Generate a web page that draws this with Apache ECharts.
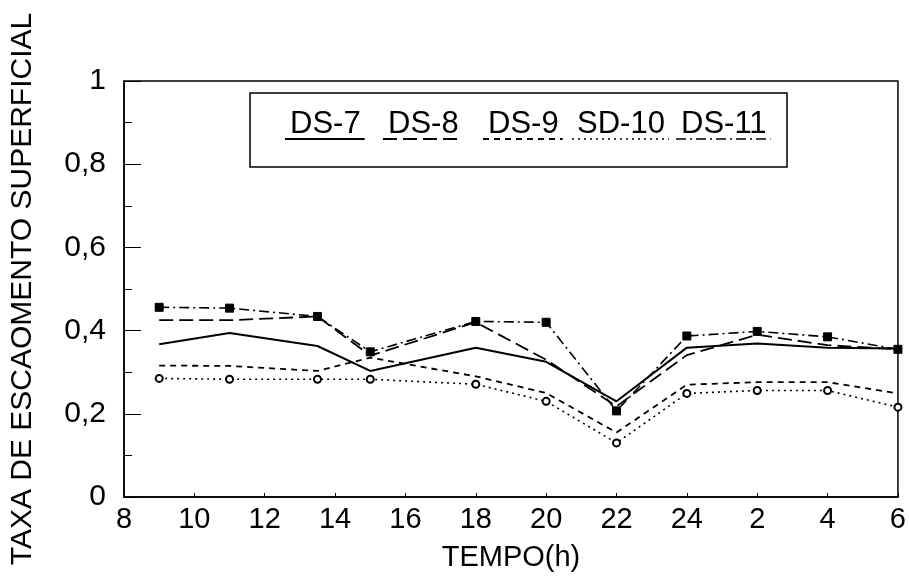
<!DOCTYPE html>
<html>
<head>
<meta charset="utf-8">
<script src="https://cdn.jsdelivr.net/npm/echarts@6/dist/echarts.min.js"></script>
<style>
html,body{margin:0;padding:0;background:#fff;}
#chart{width:909px;height:577px;}
</style>
</head>
<body>
<div id="chart"></div>
<script>
// Hours (9h day 1 ... 6h next day, plotted as 30)
const hours = [9, 11, 13.5, 15, 18, 20, 22, 24, 26, 28, 30];
const xTickLabels = ['8','10','12','14','16','18','20','22','24','2','4','6'];
const seriesNames = ['DS-7','DS-8','DS-9','SD-10','DS-11'];
const ds7  = [0.367, 0.394, 0.363, 0.303, 0.359, 0.325, 0.230, 0.359, 0.369, 0.359, 0.357];
const ds8  = [0.425, 0.425, 0.434, 0.340, 0.420, 0.330, 0.218, 0.341, 0.390, 0.365, 0.355];
const ds9  = [0.316, 0.315, 0.303, 0.335, 0.290, 0.250, 0.155, 0.270, 0.276, 0.276, 0.249];
const sd10 = [0.285, 0.283, 0.283, 0.283, 0.271, 0.230, 0.130, 0.249, 0.256, 0.256, 0.216];
const ds11 = [0.456, 0.454, 0.434, 0.349, 0.422, 0.420, 0.207, 0.387, 0.398, 0.385, 0.355];

const FONT = '"Liberation Sans", Arial, Helvetica, sans-serif';

function pairs(arr){ return hours.map((h,i)=>[h, arr[i]]); }

const styles = {
  'DS-7':  {type:'solid', width:2, symbol:'none', size:0},
  'DS-8':  {type:[14,6], width:1.8, symbol:'none', size:0},
  'DS-9':  {type:[6,5], width:1.8, symbol:'none', size:0},
  'SD-10': {type:[2,4], width:1.6, symbol:'emptyCircle', size:7},
  'DS-11': {type:[10,4,2,4], width:1.6, symbol:'rect', size:8}
};
const dataMap = {'DS-7':ds7,'DS-8':ds8,'DS-9':ds9,'SD-10':sd10,'DS-11':ds11};

const chart = echarts.init(document.getElementById('chart'));

// legend (drawn as graphic: text with line sample underneath)
const legendX = [290, 388, 488, 577, 681];
const legendEls = [{
  type:'rect', shape:{x:250, y:93, width:537, height:74},
  style:{fill:'#fff', stroke:'#000', lineWidth:1.5}, z:10
}];
seriesNames.forEach((n,i)=>{
  legendEls.push({type:'text', z:11,
    style:{text:n, x:legendX[i], y:124, font:'31px ' + FONT, fill:'#000',
      textAlign:'left', textVerticalAlign:'middle', verticalAlign:'middle'}});
  const w = echarts.format.getTextRect ? echarts.format.getTextRect(n, '31px ' + FONT).width : 70;
  const st = styles[n];
  legendEls.push({type:'line', z:11,
    shape:{x1:legendX[i]-5, y1:139, x2:legendX[i]+w+4, y2:139},
    style:{stroke:'#000', lineWidth:st.width, lineDash: st.type==='solid'?null:st.type}});
});

chart.setOption({
  animation:false,
  backgroundColor:'#fff',
  grid:{left:124, right:4, top:81, bottom:75, show:true, borderColor:'#000', borderWidth:1.5, backgroundColor:'transparent'},
  xAxis:{
    type:'value', min:8, max:30, interval:2,
    name:'TEMPO(h)', nameLocation:'middle', nameGap:46,
    nameTextStyle:{fontFamily:FONT, fontSize:29, color:'#000'},
    axisLine:{show:true, lineStyle:{color:'#000', width:1.5}},
    axisTick:{show:true, inside:true, length:4, lineStyle:{color:'#000'}},
    splitLine:{show:false},
    axisLabel:{color:'#000', fontFamily:FONT, fontSize:29, margin:8,
      formatter:v=>xTickLabels[Math.round((v-8)/2)]}
  },
  yAxis:{
    type:'value', min:0, max:1, interval:0.2,
    name:'TAXA DE ESCAOMENTO SUPERFICIAL', nameLocation:'middle', nameGap:86,
    nameRotate:90,
    nameTextStyle:{fontFamily:FONT, fontSize:30, color:'#000'},
    axisLine:{show:true, lineStyle:{color:'#000', width:1.5}},
    axisTick:{show:true, inside:true, length:17, lineStyle:{color:'#000'}},
    minorTick:{show:true, splitNumber:2, length:8, lineStyle:{color:'#000'}},
    splitLine:{show:false},
    axisLabel:{color:'#000', fontFamily:FONT, fontSize:30, margin:18,
      formatter:v=>String(v).replace('.',',')}
  },
  graphic: legendEls,
  series: seriesNames.map(n=>({
    name:n, type:'line', data:pairs(dataMap[n]),
    symbol:styles[n].symbol, symbolSize:styles[n].size,
    showSymbol: styles[n].symbol!=='none',
    itemStyle:{color:'#000', borderColor:'#000'},
    lineStyle:{color:'#000', width:styles[n].width, type:styles[n].type},
    z: 3
  }))
});
</script>
</body>
</html>
